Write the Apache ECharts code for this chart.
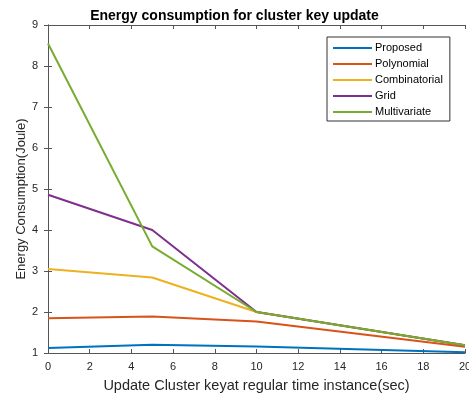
<!DOCTYPE html>
<html>
<head>
<meta charset="utf-8">
<script src="https://cdn.jsdelivr.net/npm/echarts@6/dist/echarts.min.js"></script>
<style>html,body{margin:0;padding:0;background:#fff}#c{width:469px;height:398px}</style>
</head>
<body>
<div id="c"></div>
<script>
var xValues = [0, 5, 10, 20];
var proposed = [1.12, 1.20, 1.16, 1.02];
var polynomial = [1.85, 1.89, 1.77, 1.15];
var combinatorial = [3.05, 2.84, 2.0, 1.19];
var grid = [4.86, 4.0, 2.0, 1.19];
var multivariate = [8.55, 3.6, 2.0, 1.19];
var seriesNames = ['Proposed', 'Polynomial', 'Combinatorial', 'Grid', 'Multivariate'];
var seriesColors = ['#0072BD', '#D95319', '#EDB120', '#7E2F8E', '#77AC30'];
var allData = [proposed, polynomial, combinatorial, grid, multivariate];
var yAxisTitle = 'Energy Consumption(Joule)';

function pairs(arr) { return arr.map(function (v, i) { return [xValues[i], v]; }); }

var chart = echarts.init(document.getElementById('c'), null, { renderer: 'canvas' });
var axisLine = { show: true, lineStyle: { color: '#555', width: 1 } };
var tick = { show: true, inside: true, length: 4, lineStyle: { color: '#555' } };
var lbl = { color: '#262626', fontSize: 11, fontFamily: 'Liberation Sans, Arial, sans-serif' };

chart.setOption({
  animation: false,
  backgroundColor: '#fff',
  title: {
    text: 'Energy consumption for cluster key update',
    left: 'center', top: 4,
    textStyle: { fontSize: 14, fontWeight: 'bold', color: '#000', fontFamily: 'Liberation Sans, Arial, sans-serif' }
  },
  graphic: [{
    type: 'text', x: 21, y: 199, rotation: Math.PI / 2,
    style: { text: yAxisTitle, align: 'center', verticalAlign: 'middle', fill: '#262626', font: '13px "Liberation Sans", Arial, sans-serif' }
  }],
  grid: { left: 48, right: 4, top: 25, bottom: 45, outerBoundsMode: 'none', containLabel: false },
  legend: {
    orient: 'vertical',
    left: 327, top: 37,
    backgroundColor: '#fff',
    borderColor: '#333', borderWidth: 1,
    padding: [5, 7, 3, 6],
    itemWidth: 39, itemHeight: 2, itemGap: 4,
    icon: 'rect',
    textStyle: { fontSize: 11, color: '#000', lineHeight: 12, padding: [0, 0, 0, -2], fontFamily: 'Liberation Sans, Arial, sans-serif' },
    data: seriesNames
  },
  xAxis: [{
    type: 'value', min: 0, max: 20, interval: 2,
    name: 'Update Cluster keyat regular time instance(sec)',
    nameLocation: 'middle', nameGap: 25,
    nameTextStyle: { fontSize: 14.5, color: '#262626', fontFamily: 'Liberation Sans, Arial, sans-serif' },
    axisLine: axisLine, axisTick: tick,
    axisLabel: Object.assign({ margin: 8 }, lbl),
    splitLine: { show: false }
  }, {
    type: 'value', min: 0, max: 20, interval: 2, position: 'top',
    axisLine: axisLine, axisTick: tick, axisLabel: { show: false }, splitLine: { show: false }
  }],
  yAxis: [{
    type: 'value', min: 1, max: 9, interval: 1,
    axisLine: axisLine, axisTick: tick,
    axisLabel: Object.assign({ margin: 10 }, lbl),
    splitLine: { show: false }
  }, {
    type: 'value', min: 1, max: 9, interval: 1, position: 'right',
    axisLine: axisLine, axisTick: tick, axisLabel: { show: false }, splitLine: { show: false }
  }],
  series: seriesNames.map(function (n, i) {
    return {
      name: n, type: 'line', data: pairs(allData[i]),
      showSymbol: false, symbol: 'none',
      color: seriesColors[i],
      lineStyle: { width: 2, color: seriesColors[i] },
      itemStyle: { color: seriesColors[i] }
    };
  })
});
</script>
</body>
</html>
